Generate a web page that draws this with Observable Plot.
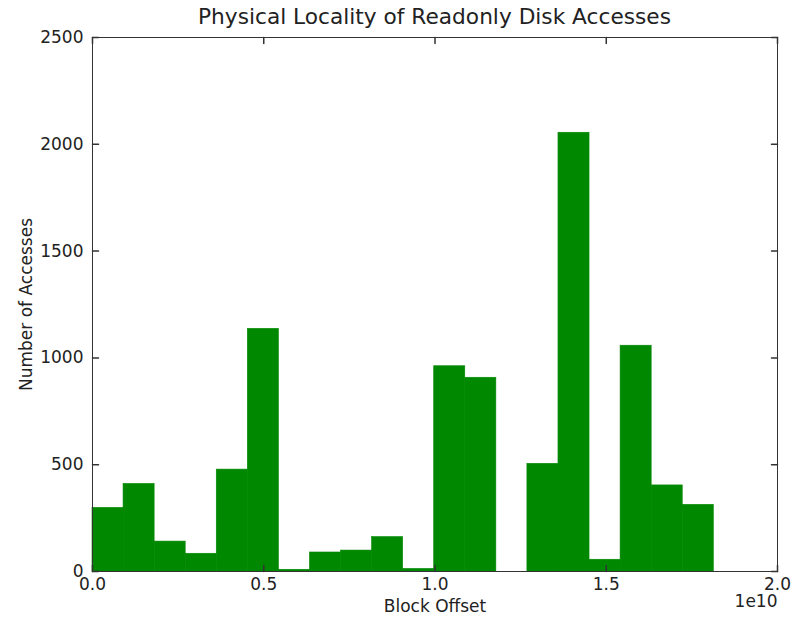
<!DOCTYPE html>
<html>
<head>
<meta charset="utf-8">
<script src="https://cdn.jsdelivr.net/npm/d3@7"></script>
<script src="https://cdn.jsdelivr.net/npm/@observablehq/plot@0.6"></script>
<style>
  html, body { margin: 0; padding: 0; background: #fff; }
  #wrap { width: 793px; height: 621px; position: relative; font-family: "DejaVu Sans", sans-serif; color: #222; }
  #title { box-sizing: border-box; height: 30px; padding-top: 4px; padding-left: 92px; width: 777px; text-align: center; font-size: 21.7px; white-space: nowrap; }
</style>
</head>
<body>
<div id="wrap">
  <div id="title">Physical Locality of Readonly Disk Accesses</div>
  <div id="chart"></div>
</div>
<script>
// Bin edges (block offset, in units of 1e10) and counts per bin
const binEdges = [0, 0.0907, 0.1814, 0.2721, 0.3628, 0.4535, 0.5442, 0.6349, 0.7256, 0.8163,
  0.9070, 0.9977, 1.0884, 1.1791, 1.2698, 1.3605, 1.4512, 1.5419, 1.6326, 1.7233, 1.8140];
const counts = [298, 410, 140, 83, 477, 1136, 8, 89, 98, 161,
  12, 961, 907, 0, 504, 2054, 55, 1057, 403, 312];
const xTicks = [0, 0.5, 1.0, 1.5, 2.0];
const yTicks = [0, 500, 1000, 1500, 2000, 2500];
const xLabel = "Block Offset";
const yLabel = "Number of Accesses";
const xExponent = "1e10";

const bins = counts.map((c, i) => ({x1: binEdges[i] * 1e10, x2: binEdges[i + 1] * 1e10, count: c}));
const tickShape = {draw(context, l) { context.moveTo(0, 0); context.lineTo(0, -l); }};
const tickColor = "#333";
const tickLen = 6;
const barColor = "#008800";

const chart = Plot.plot({
  width: 793,
  height: 591,
  marginTop: 7,
  marginBottom: 50,
  marginLeft: 92,
  marginRight: 16,
  style: {fontFamily: "DejaVu Sans, sans-serif", fontSize: "17px", color: "#222", background: "white", overflow: "visible"},
  x: {domain: [0, 2e10]},
  y: {domain: [0, 2500]},
  marks: [
    Plot.rectY(bins, {x1: "x1", x2: "x2", y: "count", fill: barColor, stroke: barColor, strokeWidth: 0.6, inset: 0}),
    Plot.frame({stroke: tickColor, strokeWidth: 1}),
    Plot.axisX(xTicks.map(d => d * 1e10), {anchor: "bottom", tickSize: 0, tickPadding: 6, tickFormat: d => (d / 1e10).toFixed(1), label: null, fontSize: 17}),
    Plot.axisY(yTicks, {anchor: "left", tickSize: 0, tickPadding: 9, tickFormat: d => String(d), label: null, fontSize: 17}),
    Plot.vector(xTicks, {x: d => d * 1e10, frameAnchor: "bottom", length: tickLen, rotate: 0, anchor: "start", shape: tickShape, stroke: tickColor}),
    Plot.vector(xTicks, {x: d => d * 1e10, frameAnchor: "top", length: tickLen, rotate: 180, anchor: "start", shape: tickShape, stroke: tickColor}),
    Plot.vector(yTicks, {y: d => d, frameAnchor: "left", length: tickLen, rotate: 90, anchor: "start", shape: tickShape, stroke: tickColor}),
    Plot.vector(yTicks, {y: d => d, frameAnchor: "right", length: tickLen, rotate: -90, anchor: "start", shape: tickShape, stroke: tickColor}),
    Plot.text([xLabel], {text: d => d, frameAnchor: "bottom", dy: 35.5, lineAnchor: "middle", textAnchor: "middle", fontSize: 17, fill: "#222"}),
    Plot.text([xExponent], {text: d => d, frameAnchor: "bottom-right", dy: 30.5, lineAnchor: "middle", textAnchor: "end", fontSize: 17, fill: "#222"}),
    Plot.text([yLabel], {text: d => d, frameAnchor: "left", dx: -66, rotate: -90, lineAnchor: "middle", textAnchor: "middle", fontSize: 17, fill: "#222"})
  ]
});
document.getElementById("chart").appendChild(chart);
</script>
</body>
</html>
